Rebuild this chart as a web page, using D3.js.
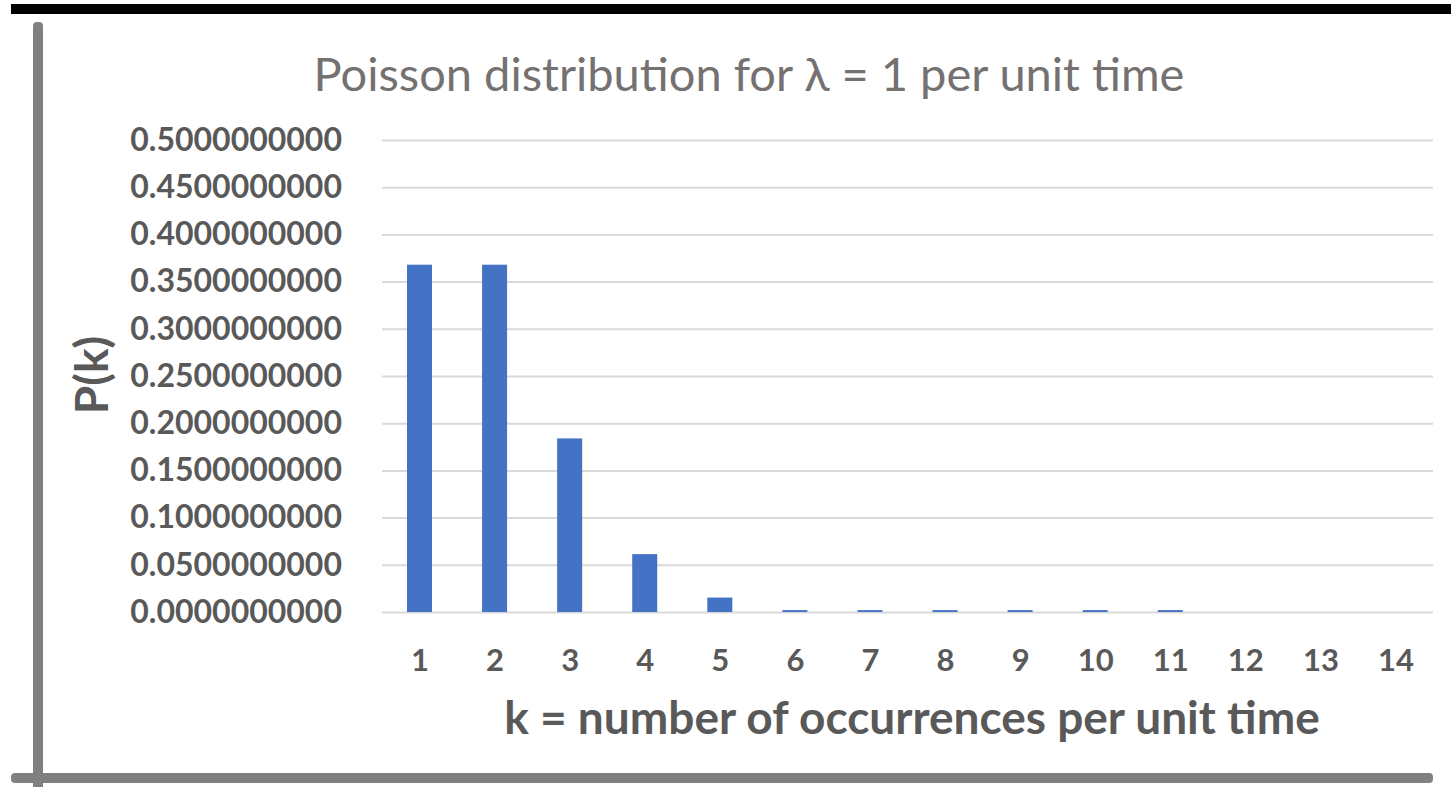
<!DOCTYPE html>
<html>
<head>
<meta charset="utf-8">
<script src="https://cdn.jsdelivr.net/npm/d3@7"></script>
<style>
  body { margin: 0; background: #fff; }
  svg { display: block; }
  text { font-family: Lato, "Open Sans", sans-serif; }
</style>
</head>
<body>
<svg id="chart" width="1451" height="787"></svg>
<script>
// values
const ks = ["1","2","3","4","5","6","7","8","9","10","11","12","13","14"];
const probs = [0.3679, 0.3679, 0.1839, 0.0613, 0.0153, 0.002, 0.002, 0.002, 0.002, 0.002, 0.002, 0, 0, 0];
const yTicks = [0, 0.05, 0.1, 0.15, 0.2, 0.25, 0.3, 0.35, 0.4, 0.45, 0.5];
const titleText = "Poisson distribution for \u03bb = 1 per unit time";
const xTitle = "k = number of occurrences per unit time";
const yTitle = "P(k)";

const svg = d3.select("#chart");
const mar = { top: 140, right: 18, bottom: 175, left: 382 };
const w = 1451 - mar.left - mar.right;
const h = 787 - mar.top - mar.bottom;

// frame lines around the picture (screenshot border)
svg.append("rect").attr("x", 11).attr("y", 4).attr("width", 1440).attr("height", 10).attr("fill", "#000");
svg.append("rect").attr("x", 33).attr("y", 22).attr("width", 10).attr("height", 780).attr("rx", 4).attr("fill", "#808080");
svg.append("rect").attr("x", 11).attr("y", 773).attr("width", 1422).attr("height", 10).attr("rx", 4).attr("fill", "#808080");

const g = svg.append("g").attr("transform", `translate(${mar.left},${mar.top})`);

const x = d3.scaleBand().domain(ks).range([0, w]).paddingInner(0.667).paddingOuter(0.333);
const y = d3.scaleLinear().domain([0, 0.5]).range([h, 0]);

// gridlines
g.append("g")
    .call(d3.axisLeft(y).tickValues(yTicks).tickSize(-w).tickFormat(""))
    .call(a => a.select(".domain").remove())
    .call(a => a.selectAll("line").attr("stroke", "#d9d9d9").attr("stroke-width", 2));

// y tick labels
g.append("g")
    .attr("transform", "translate(-37,0)")
    .call(d3.axisLeft(y).tickValues(yTicks).tickSize(0).tickFormat(d3.format(".10f")))
    .call(a => a.select(".domain").remove())
    .call(a => a.selectAll("text")
        .attr("fill", "#595959")
        .style("font-size", "32px")
        .style("font-weight", "bold")
        .style("font-family", "Lato, sans-serif"));

// bars
g.selectAll("rect.bar")
    .data(probs)
    .enter()
    .append("rect")
    .attr("class", "bar")
    .attr("x", (d, i) => x(ks[i]))
    .attr("y", d => y(d))
    .attr("width", x.bandwidth())
    .attr("height", d => h - y(d))
    .attr("fill", "#4472c4");

// x tick labels
g.append("g")
    .attr("transform", `translate(0,${h + 34})`)
    .call(d3.axisBottom(d3.scalePoint().domain(ks).range([x(ks[0]) + x.bandwidth() / 2, x(ks[13]) + x.bandwidth() / 2])).tickSize(0))
    .call(a => a.select(".domain").remove())
    .call(a => a.selectAll("text")
        .attr("fill", "#595959")
        .style("font-size", "31px")
        .style("font-weight", "bold")
        .style("font-family", "Lato, sans-serif"));

// title
svg.append("text")
    .attr("x", 749)
    .attr("y", 91)
    .attr("text-anchor", "middle")
    .attr("fill", "#757171")
    .style("font-size", "47px")
    .text(titleText);

// axis titles
svg.append("text")
    .attr("x", 912)
    .attr("y", 734)
    .attr("text-anchor", "middle")
    .attr("fill", "#595959")
    .style("font-size", "46px")
    .style("font-weight", "bold")
    .text(xTitle);

svg.append("text")
    .attr("transform", "translate(108,375) rotate(-90)")
    .attr("text-anchor", "middle")
    .attr("fill", "#595959")
    .style("font-size", "46px")
    .style("font-weight", "bold")
    .text(yTitle);
</script>
</body>
</html>
